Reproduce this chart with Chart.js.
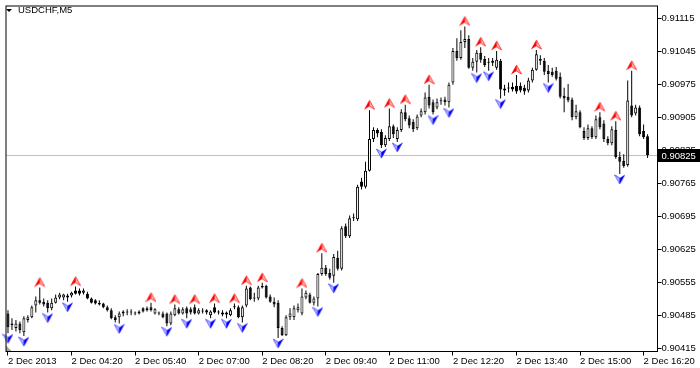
<!DOCTYPE html>
<html lang="en">
<head>
<meta charset="UTF-8">
<title>USDCHF,M5</title>
<script src="https://cdn.jsdelivr.net/npm/chart.js@4/dist/chart.umd.min.js"></script>
<style>
    html, body { margin: 0; padding: 0; background: #fff; }
    #wrap { width: 700px; height: 368px; }
</style>
</head>
<body>
<div id="wrap"><canvas id="chart" width="700" height="368"></canvas></div>
<script>
// chart data (M5 bars, 2 Dec 2013 03:00 .. 16:25)
const symbol = "USDCHF,M5";
const xTickLabels = ["2 Dec 2013", "2 Dec 04:20", "2 Dec 05:40", "2 Dec 07:00", "2 Dec 08:20", "2 Dec 09:40",
    "2 Dec 11:00", "2 Dec 12:20", "2 Dec 13:40", "2 Dec 15:00", "2 Dec 16:20"];
const yTicks = [0.90415, 0.90485, 0.90555, 0.90625, 0.90695, 0.90765, 0.90835, 0.90905, 0.90975, 0.91045, 0.91115];

const open = [
    0.90489,0.90468,0.90458,0.90468,0.90449,0.90475,0.90481,0.90506,0.90517,0.90514,
    0.90512,0.90500,0.90512,0.90523,0.90523,0.90527,0.90527,0.90538,0.90538,0.90533,
    0.90531,0.90521,0.90517,0.90512,0.90510,0.90502,0.90496,0.90481,0.90481,0.90489,
    0.90491,0.90491,0.90489,0.90493,0.90500,0.90500,0.90502,0.90489,0.90489,0.90489,
    0.90489,0.90468,0.90485,0.90498,0.90489,0.90500,0.90498,0.90502,0.90489,0.90493,
    0.90496,0.90485,0.90502,0.90491,0.90491,0.90491,0.90485,0.90502,0.90502,0.90481,
    0.90506,0.90544,0.90521,0.90521,0.90544,0.90548,0.90525,0.90514,0.90512,0.90458,
    0.90443,0.90481,0.90481,0.90496,0.90489,0.90523,0.90529,0.90512,0.90521,0.90573,
    0.90586,0.90575,0.90569,0.90607,0.90584,0.90674,0.90653,0.90691,0.90689,0.90769,
    0.90758,0.90792,0.90859,0.90878,0.90874,0.90846,0.90859,0.90886,0.90859,0.90878,
    0.90916,0.90903,0.90895,0.90882,0.90909,0.90916,0.90949,0.90937,0.90926,0.90939,
    0.90943,0.90937,0.90979,0.91046,0.91031,0.91065,0.91071,0.91010,0.91023,0.91042,
    0.91029,0.91021,0.91025,0.91010,0.91025,0.90962,0.90966,0.90970,0.90972,0.90972,
    0.90968,0.90962,0.90983,0.91006,0.91029,0.91025,0.91004,0.91002,0.91004,0.90991,
    0.90951,0.90949,0.90943,0.90905,0.90916,0.90876,0.90861,0.90882,0.90863,0.90905,
    0.90892,0.90859,0.90850,0.90878,0.90821,0.90813,0.90804,0.90930,0.90913,0.90926,
    0.90876,0.90865
];
const high = [
    0.90496,0.90479,0.90475,0.90472,0.90483,0.90485,0.90506,0.90525,0.90544,0.90521,
    0.90517,0.90521,0.90529,0.90533,0.90531,0.90531,0.90535,0.90546,0.90542,0.90542,
    0.90535,0.90523,0.90519,0.90517,0.90512,0.90506,0.90500,0.90485,0.90493,0.90496,
    0.90498,0.90498,0.90493,0.90496,0.90502,0.90504,0.90512,0.90500,0.90493,0.90493,
    0.90491,0.90493,0.90508,0.90502,0.90502,0.90504,0.90502,0.90508,0.90500,0.90500,
    0.90498,0.90496,0.90510,0.90496,0.90496,0.90493,0.90500,0.90510,0.90506,0.90506,
    0.90548,0.90546,0.90533,0.90548,0.90554,0.90550,0.90529,0.90523,0.90517,0.90462,
    0.90485,0.90500,0.90506,0.90510,0.90542,0.90538,0.90533,0.90525,0.90575,0.90617,
    0.90592,0.90584,0.90615,0.90622,0.90674,0.90680,0.90697,0.90701,0.90762,0.90777,
    0.90811,0.90920,0.90884,0.90882,0.90880,0.90867,0.90924,0.90890,0.90884,0.90922,
    0.90932,0.90909,0.90901,0.90911,0.90924,0.90958,0.90974,0.90943,0.90945,0.90947,
    0.90949,0.90979,0.91052,0.91073,0.91090,0.91098,0.91079,0.91031,0.91048,0.91054,
    0.91035,0.91031,0.91031,0.91046,0.91029,0.90974,0.90979,0.90979,0.90995,0.90979,
    0.90974,0.90989,0.91010,0.91048,0.91037,0.91031,0.91016,0.91010,0.91012,0.91000,
    0.90968,0.90976,0.90947,0.90932,0.90920,0.90884,0.90890,0.90886,0.90909,0.90916,
    0.90899,0.90865,0.90886,0.90897,0.90832,0.90827,0.90983,0.91004,0.90932,0.90930,
    0.90890,0.90869
];
const low = [
    0.90447,0.90454,0.90451,0.90447,0.90441,0.90470,0.90479,0.90491,0.90508,0.90504,
    0.90491,0.90496,0.90510,0.90519,0.90517,0.90514,0.90523,0.90529,0.90527,0.90529,
    0.90519,0.90510,0.90508,0.90506,0.90500,0.90493,0.90477,0.90470,0.90468,0.90483,
    0.90485,0.90485,0.90485,0.90487,0.90491,0.90493,0.90493,0.90487,0.90485,0.90479,
    0.90462,0.90464,0.90483,0.90487,0.90487,0.90479,0.90487,0.90487,0.90487,0.90489,
    0.90487,0.90479,0.90489,0.90487,0.90483,0.90479,0.90483,0.90498,0.90479,0.90470,
    0.90502,0.90517,0.90514,0.90517,0.90542,0.90521,0.90512,0.90502,0.90437,0.90441,
    0.90441,0.90475,0.90475,0.90491,0.90485,0.90519,0.90510,0.90506,0.90504,0.90569,
    0.90569,0.90561,0.90554,0.90580,0.90580,0.90649,0.90649,0.90685,0.90685,0.90752,
    0.90754,0.90790,0.90853,0.90863,0.90840,0.90842,0.90855,0.90861,0.90853,0.90874,
    0.90897,0.90882,0.90874,0.90878,0.90905,0.90911,0.90924,0.90911,0.90922,0.90932,
    0.90930,0.90926,0.90974,0.91025,0.91027,0.91052,0.91008,0.91004,0.91000,0.91021,
    0.91012,0.91004,0.91014,0.91006,0.90945,0.90951,0.90958,0.90960,0.90955,0.90958,
    0.90953,0.90958,0.90979,0.91004,0.91016,0.90995,0.90979,0.90991,0.90983,0.90945,
    0.90916,0.90937,0.90899,0.90901,0.90882,0.90857,0.90857,0.90859,0.90859,0.90880,
    0.90853,0.90846,0.90846,0.90817,0.90785,0.90798,0.90800,0.90905,0.90909,0.90865,
    0.90859,0.90819
];
const close = [
    0.90460,0.90464,0.90468,0.90454,0.90479,0.90481,0.90502,0.90517,0.90512,0.90508,
    0.90500,0.90512,0.90523,0.90529,0.90529,0.90523,0.90533,0.90531,0.90531,0.90538,
    0.90521,0.90512,0.90510,0.90508,0.90502,0.90496,0.90479,0.90475,0.90489,0.90493,
    0.90491,0.90493,0.90489,0.90489,0.90493,0.90496,0.90496,0.90498,0.90491,0.90481,
    0.90468,0.90489,0.90500,0.90489,0.90498,0.90489,0.90491,0.90489,0.90496,0.90493,
    0.90491,0.90493,0.90491,0.90491,0.90487,0.90487,0.90496,0.90502,0.90481,0.90502,
    0.90542,0.90519,0.90521,0.90544,0.90548,0.90523,0.90514,0.90508,0.90458,0.90443,
    0.90481,0.90489,0.90500,0.90502,0.90525,0.90533,0.90512,0.90521,0.90573,0.90586,
    0.90573,0.90565,0.90609,0.90584,0.90670,0.90653,0.90691,0.90691,0.90758,0.90758,
    0.90792,0.90859,0.90878,0.90871,0.90846,0.90861,0.90886,0.90869,0.90878,0.90916,
    0.90901,0.90888,0.90880,0.90907,0.90918,0.90947,0.90930,0.90916,0.90937,0.90939,
    0.90937,0.90974,0.91046,0.91031,0.91065,0.91071,0.91010,0.91023,0.91042,0.91027,
    0.91016,0.91021,0.91021,0.91027,0.90964,0.90966,0.90966,0.90964,0.90960,0.90962,
    0.90960,0.90983,0.91006,0.91039,0.91025,0.91002,0.90997,0.90995,0.90987,0.90949,
    0.90945,0.90941,0.90905,0.90918,0.90884,0.90861,0.90882,0.90863,0.90901,0.90884,
    0.90859,0.90850,0.90880,0.90821,0.90811,0.90802,0.90941,0.90909,0.90926,0.90869,
    0.90863,0.90825
];
// bar indexes where the fractal arrows sit
const upFractals = [8, 17, 36, 42, 47, 52, 57, 60, 64, 74, 79, 91, 96, 100, 106, 115, 119, 123, 128, 133, 149, 153, 157];
const downFractals = [0, 4, 10, 15, 28, 40, 45, 51, 55, 59, 68, 78, 82, 94, 98, 107, 111, 118, 121, 124, 136, 154];

const yMin = 0.9040835, yMax = 0.9114125;
const FONT = { family: "'Liberation Sans', Arial, sans-serif", size: 9.5 };

// bar times, 5 minutes apart from 03:00, plus two empty slots on the right
const labels = open.map((_, i) => {
    const m = 180 + i * 5;
    return String(Math.floor(m / 60)).padStart(2, "0") + ":" + String(m % 60).padStart(2, "0");
}).concat(["", ""]);

const wicks = open.map((_, i) => [low[i], high[i]]);
const bodies = open.map((o, i) => [Math.min(o, close[i]), Math.max(o, close[i])]);
const bodyColors = open.map((o, i) => close[i] >= o ? "#ffffff" : "#000000");
const upData = open.map((_, i) => upFractals.includes(i) ? high[i] : null);
const downData = open.map((_, i) => downFractals.includes(i) ? low[i] : null);

// arrow sprites, the point sits in the middle of the canvas
function makeArrow(up) {
    const c = document.createElement("canvas");
    c.width = 11; c.height = 22;
    const g = c.getContext("2d");
    g.lineWidth = 1;
    if (up) {
        g.fillStyle = "#ff0000";
        g.beginPath(); g.moveTo(5.5, 0.5); g.lineTo(5.5, 7); g.lineTo(0, 10.5); g.closePath(); g.fill();
        g.fillStyle = "#ffb8b8"; g.strokeStyle = "#ff4040";
        g.beginPath(); g.moveTo(5.5, 1); g.lineTo(10.5, 10); g.lineTo(5.5, 7); g.closePath(); g.fill(); g.stroke();
    } else {
        g.fillStyle = "#b8b8ff"; g.strokeStyle = "#6060ff";
        g.beginPath(); g.moveTo(0.5, 12); g.lineTo(5.5, 15); g.lineTo(5.5, 21); g.closePath(); g.fill(); g.stroke();
        g.fillStyle = "#0000ff";
        g.beginPath(); g.moveTo(5.5, 15); g.lineTo(11, 11.5); g.lineTo(5.5, 21.5); g.closePath(); g.fill();
    }
    return c;
}
const arrowUp = makeArrow(true);
const arrowDown = makeArrow(false);

// frame, bid line, price box, title
const terminal = {
    id: "terminal",
    beforeDatasetsDraw(chart) {
        const { ctx, chartArea: a, scales: { y } } = chart;
        const py = Math.floor(y.getPixelForValue(close[close.length - 1])) + 0.5;
        ctx.save();
        ctx.strokeStyle = "#c0c0c0";
        ctx.lineWidth = 1;
        ctx.beginPath(); ctx.moveTo(a.left, py); ctx.lineTo(a.right, py); ctx.stroke();
        ctx.fillStyle = "#a0a0a0";
        ctx.beginPath(); ctx.moveTo(a.left, a.bottom - 6); ctx.lineTo(a.left + 6, a.bottom); ctx.lineTo(a.left, a.bottom); ctx.closePath(); ctx.fill();
        ctx.restore();
    },
    afterDraw(chart) {
        const { ctx, chartArea: a, scales: { y } } = chart;
        const last = close[close.length - 1];
        const py = Math.floor(y.getPixelForValue(last)) + 0.5;
        ctx.save();
        ctx.strokeStyle = "#000";
        ctx.lineWidth = 1;
        ctx.strokeRect(a.left, a.top, a.right - a.left, a.bottom - a.top);

        ctx.fillStyle = "#000";
        ctx.fillRect(a.right, py - 6.5, chart.width - a.right, 13);
        ctx.fillStyle = "#fff";
        ctx.font = FONT.size + "px " + FONT.family;
        ctx.textBaseline = "middle";
        ctx.fillText(last.toFixed(5), a.right + 4, py + 0.5);

        ctx.fillStyle = "#000";
        ctx.beginPath(); ctx.moveTo(6, 9); ctx.lineTo(12, 9); ctx.lineTo(9, 12); ctx.closePath(); ctx.fill();
        ctx.fillText(symbol, 18, 10.5);
        ctx.restore();
    }
};

new Chart(document.getElementById("chart"), {
    type: "bar",
    data: {
        labels: labels,
        datasets: [
            {
                type: "line", data: upData, showLine: false, order: 1,
                pointStyle: arrowUp, pointRadius: 5
            },
            {
                type: "line", data: downData, showLine: false, order: 1,
                pointStyle: arrowDown, pointRadius: 5
            },
            {
                data: bodies, order: 2, grouped: false,
                barThickness: 3, minBarLength: 1, inflateAmount: 0,
                backgroundColor: bodyColors, borderColor: "#000000",
                borderWidth: 1, borderSkipped: false
            },
            {
                data: wicks, order: 3, grouped: false,
                barThickness: 1, inflateAmount: 0,
                backgroundColor: "#000000", borderWidth: 0
            }
        ]
    },
    options: {
        responsive: false,
        animation: false,
        events: [],
        layout: { padding: { left: 1.5, top: 2.5, right: 0, bottom: 0 } },
        plugins: { legend: { display: false }, tooltip: { enabled: false } },
        scales: {
            x: {
                type: "category",
                offset: true,
                grid: { drawOnChartArea: false, drawTicks: true, tickLength: 4, color: "#000", offset: false },
                border: { display: false },
                ticks: {
                    autoSkip: false, maxRotation: 0, align: "start", padding: 0,
                    color: "#000", font: FONT,
                    callback: (v, i) => xTickLabels[i]
                },
                afterBuildTicks: s => { s.ticks = s.ticks.filter(t => t.value % 16 === 0 && t.value < open.length); },
                afterFit: s => { s.height = 16.5; }
            },
            y: {
                position: "right",
                min: yMin, max: yMax,
                grid: { drawOnChartArea: false, drawTicks: true, tickLength: 4, color: "#000" },
                border: { display: false },
                ticks: { padding: 0, color: "#000", font: FONT, callback: v => v.toFixed(5) },
                afterBuildTicks: s => { s.ticks = yTicks.map(v => ({ value: v })); },
                afterFit: s => { s.width = 42.5; }
            }
        }
    },
    plugins: [terminal]
});
</script>
</body>
</html>
